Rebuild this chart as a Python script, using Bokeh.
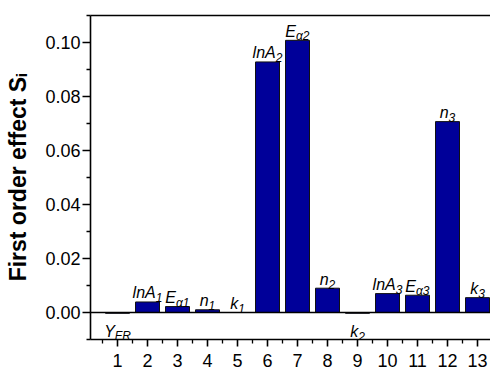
from bokeh.plotting import figure
from bokeh.models import ColumnDataSource, Range1d, LinearAxis, FixedTicker, NumeralTickFormatter
from bokeh.core.properties import value
from bokeh.embed import file_html
from bokeh.resources import INLINE

# ---- data ----
positions = [1, 2, 3, 4, 5, 6, 7, 8, 9, 10, 11, 12, 13]
si_values = [-0.0003, 0.0039, 0.0022, 0.0010, 0.0, 0.0928, 0.1008, 0.0090, -0.0003, 0.0070, 0.0064, 0.0707, 0.0055]
label_main = ["Y", "lnA", "E", "n", "k", "lnA", "E", "n", "k", "lnA", "E", "n", "k"]
label_sub = ["FR", "1", "α1", "1", "1", "2", "α2", "2", "2", "3", "α3", "3", "3"]
label_below = [True, False, False, False, False, False, False, False, True, False, False, False, False]
y_ticks = [0.0, 0.02, 0.04, 0.06, 0.08, 0.10]

# ---- style helpers ----
MAIN_SIZE = 16
SUB_SIZE = 12
CW = {"l": 0.222, "n": 0.556, "A": 0.667, "E": 0.667, "k": 0.5, "Y": 0.667,
      "F": 0.611, "R": 0.722, "α": 0.58, "1": 0.556, "2": 0.556, "3": 0.556}

def w(s, size):
    return sum(CW.get(c, 0.55) for c in s) * size

main_xoff, sub_xoff, main_yoff, sub_yoff = [], [], [], []
for m, s, below in zip(label_main, label_sub, label_below):
    wm, ws = w(m, MAIN_SIZE), w(s, SUB_SIZE)
    tot = wm + ws
    main_xoff.append(-tot / 2)
    sub_xoff.append(-tot / 2 + wm)
    if below:
        main_yoff.append(18)
        sub_yoff.append(23)
    else:
        main_yoff.append(-9)
        sub_yoff.append(-4)

src = ColumnDataSource(dict(x=positions, top=si_values, main=label_main, sub=label_sub,
                            mx=main_xoff, sx=sub_xoff, my=main_yoff, sy=sub_yoff))

p = figure(width=490, height=369, output_backend="svg", toolbar_location=None,
           x_range=Range1d(0.1, 13.433), y_range=Range1d(-0.01, 0.11),
           min_border_left=90, min_border_right=0, min_border_top=15, min_border_bottom=30)
p.outline_line_color = None
p.grid.grid_line_color = None
p.background_fill_color = "white"
p.border_fill_color = "white"

p.vbar(x="x", top="top", bottom=0, width=0.8, source=src,
       fill_color="#000099", line_color="#111111", line_width=1)
p.hspan(y=[0], line_color="black", line_width=1.3)

p.text(x="x", y="top", text="main", source=src, x_offset="mx", y_offset="my",
       text_font=value("Liberation Sans"), text_font_style="italic",
       text_font_size=f"{MAIN_SIZE}px", text_align="left", text_baseline="alphabetic",
       text_color="black")
p.text(x="x", y="top", text="sub", source=src, x_offset="sx", y_offset="sy",
       text_font=value("Liberation Sans"), text_font_style="italic",
       text_font_size=f"{SUB_SIZE}px", text_align="left", text_baseline="alphabetic",
       text_color="black")

# x axis
xa = p.xaxis[0]
xa.ticker = FixedTicker(ticks=positions, minor_ticks=[x + 0.5 for x in [0] + positions])
xa.major_tick_out = 7
xa.major_tick_in = 0
xa.minor_tick_out = 4
xa.minor_tick_in = 0
xa.axis_line_width = 1.6
xa.major_tick_line_width = 1.6
xa.minor_tick_line_width = 1.3
xa.major_label_text_font = "Liberation Sans"
xa.major_label_text_font_size = "18px"
xa.major_label_text_color = "black"
xa.major_label_standoff = 7

# y axis
ya = p.yaxis[0]
ya.ticker = FixedTicker(ticks=y_ticks, minor_ticks=[-0.01, 0.01, 0.03, 0.05, 0.07, 0.09, 0.11])
ya.formatter = NumeralTickFormatter(format="0.00")
ya.major_tick_out = 8
ya.major_tick_in = 0
ya.minor_tick_out = 4
ya.minor_tick_in = 0
ya.axis_line_width = 1.6
ya.major_tick_line_width = 1.6
ya.minor_tick_line_width = 1.3
ya.major_label_text_font = "Liberation Sans"
ya.major_label_text_font_size = "18px"
ya.major_label_text_color = "black"
ya.major_label_standoff = 2
ya.axis_label = "First order effect Sᵢ"
ya.axis_label_text_font = "Liberation Sans"
ya.axis_label_text_font_style = "bold"
ya.axis_label_text_font_size = "23px"
ya.axis_label_text_color = "black"
ya.axis_label_standoff = 11

# top frame line
top = LinearAxis(ticker=FixedTicker(ticks=[]), major_label_text_font_size="0px",
                 major_tick_line_color=None, minor_tick_line_color=None, axis_line_width=1.6)
p.add_layout(top, "above")

open("out.html", "w").write(file_html(p, INLINE))
